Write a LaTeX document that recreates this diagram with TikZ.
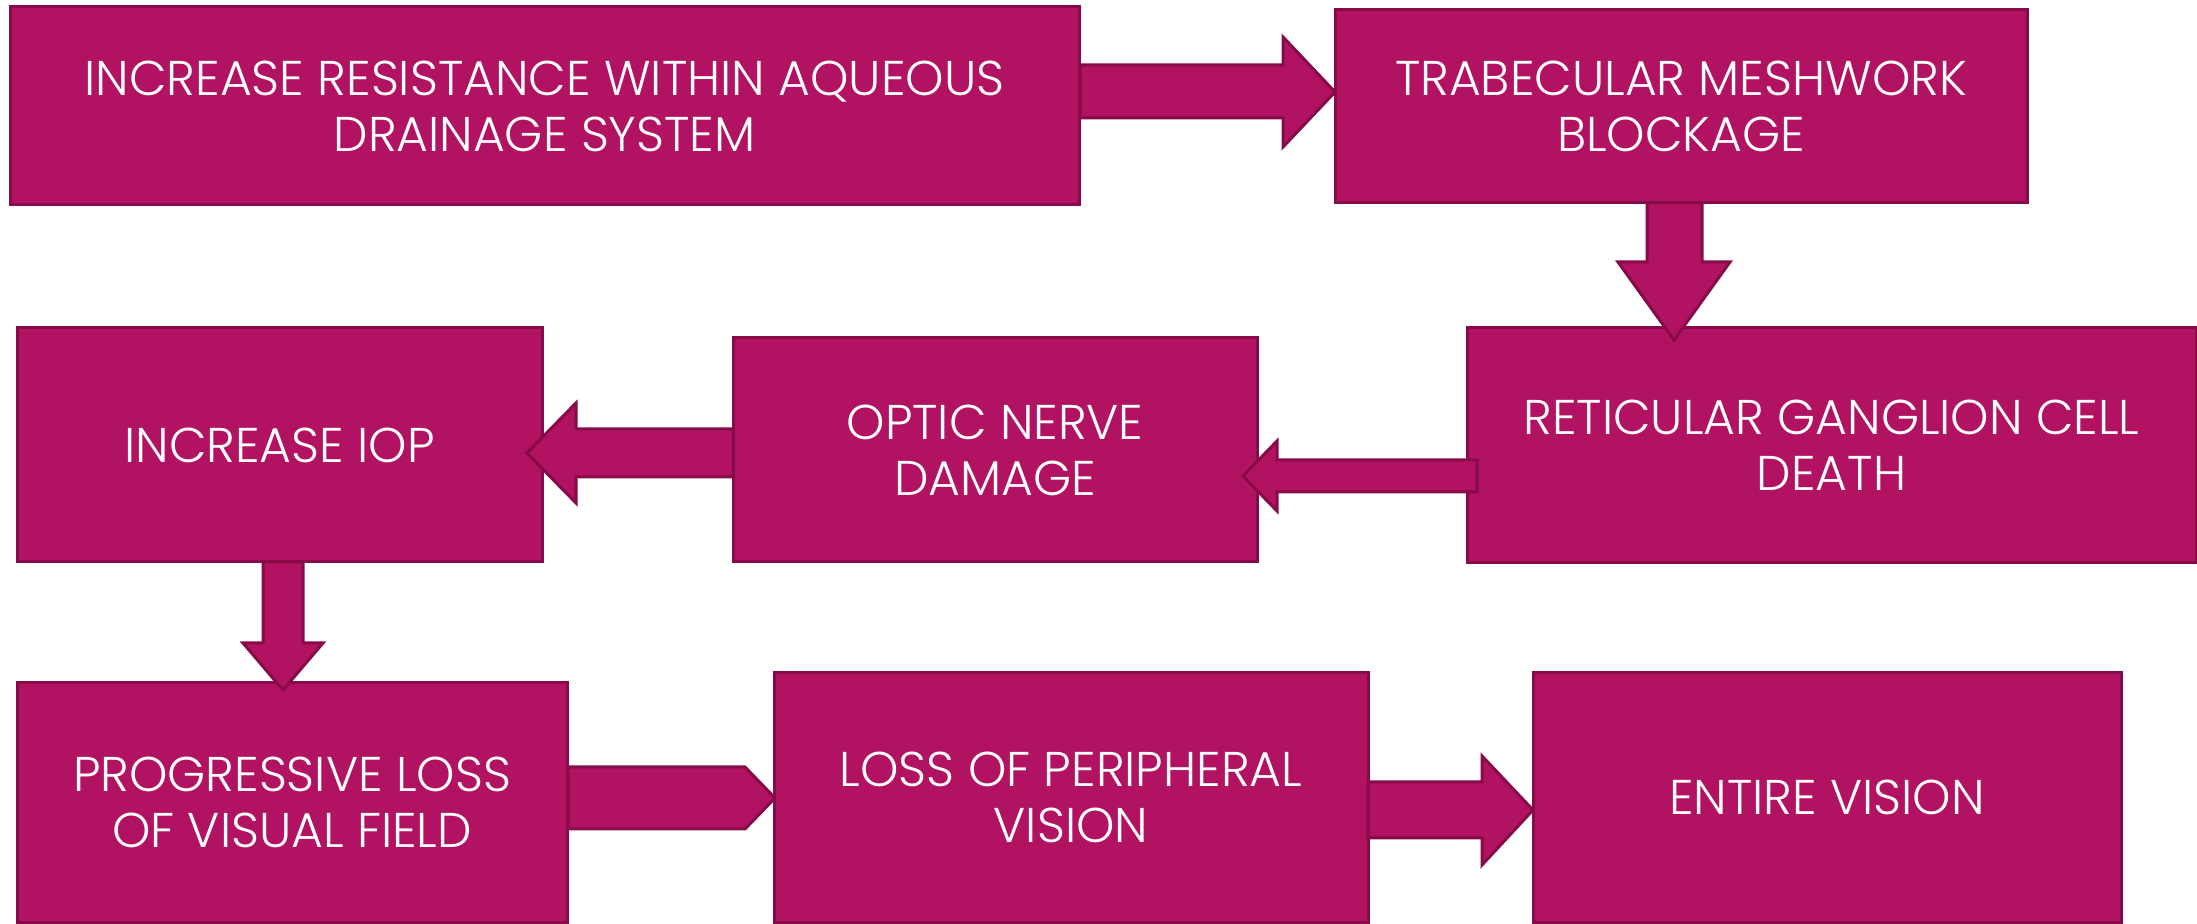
\documentclass[tikz,border=0pt]{standalone}
\usepackage{fontspec}
\setmainfont{Poppins}[UprightFont={* Light}]
\usetikzlibrary{calc}
\definecolor{boxfill}{HTML}{B21262}
\definecolor{boxline}{HTML}{870B48}
\begin{document}
\begin{tikzpicture}[x=0.5pt,y=-0.5pt,
  box/.style={draw=boxline,fill=boxfill,line width=1.5pt,inner sep=0pt,
    text=white,align=center,font=\fontsize{24.4pt}{28pt}\selectfont},
  blockarrow/.style={draw=boxline,fill=boxfill,line width=1.5pt,line join=miter}]
\useasboundingbox (0,0) rectangle (2197,924);
\node[box,minimum width=534.5pt,minimum height=99pt] (b1) at (544.5,106) {INCREASE RESISTANCE WITHIN AQUEOUS\\DRAINAGE SYSTEM};
\node[box,minimum width=346pt,minimum height=96.5pt] (b2) at (1681,106.5) {TRABECULAR MESHWORK\\BLOCKAGE};
\node[box,minimum width=364.5pt,minimum height=117.5pt] (b3) at (1831.5,445.5) {RETICULAR GANGLION CELL\\DEATH};
\node[box,minimum width=262pt,minimum height=112pt] (b4) at (995,450) {OPTIC NERVE\\DAMAGE};
\node[box,minimum width=262.5pt,minimum height=117pt] (b5) at (279.5,445) {INCREASE IOP};
\node[box,minimum width=275pt,minimum height=119.5pt] (b6) at (292,802.5) {PROGRESSIVE LOSS\\OF VISUAL FIELD};
\node[box,minimum width=297pt,minimum height=124.5pt] (b7) at (1071,797.5) {LOSS OF PERIPHERAL\\VISION};
\node[box,minimum width=294pt,minimum height=124.5pt] (b8) at (1827,797.5) {ENTIRE VISION};
% block arrows
\draw[blockarrow] (1080,65) -- (1283,65) -- (1283,37) -- (1335,92) -- (1283,147) -- (1283,118) -- (1080,118) -- cycle;
\draw[blockarrow] (1647,203) -- (1702,203) -- (1702,262) -- (1730,262) -- (1674,340) -- (1618,262) -- (1647,262) -- cycle;
\draw[blockarrow] (1477,460) -- (1277,460) -- (1277,441) -- (1243,476) -- (1277,511) -- (1277,492) -- (1477,492) -- cycle;
\draw[blockarrow] (733,429) -- (576,429) -- (576,403) -- (527,453) -- (576,503) -- (576,477) -- (733,477) -- cycle;
\draw[blockarrow] (263,562) -- (303,562) -- (303,643) -- (323,643) -- (283,690) -- (243,643) -- (263,643) -- cycle;
\draw[blockarrow] (568,767) -- (745,767) -- (775,798) -- (745,829) -- (568,829) -- cycle;
\draw[blockarrow] (1368,782) -- (1482,782) -- (1482,756) -- (1533,810) -- (1482,865) -- (1482,838) -- (1368,838) -- cycle;
\end{tikzpicture}
\end{document}
